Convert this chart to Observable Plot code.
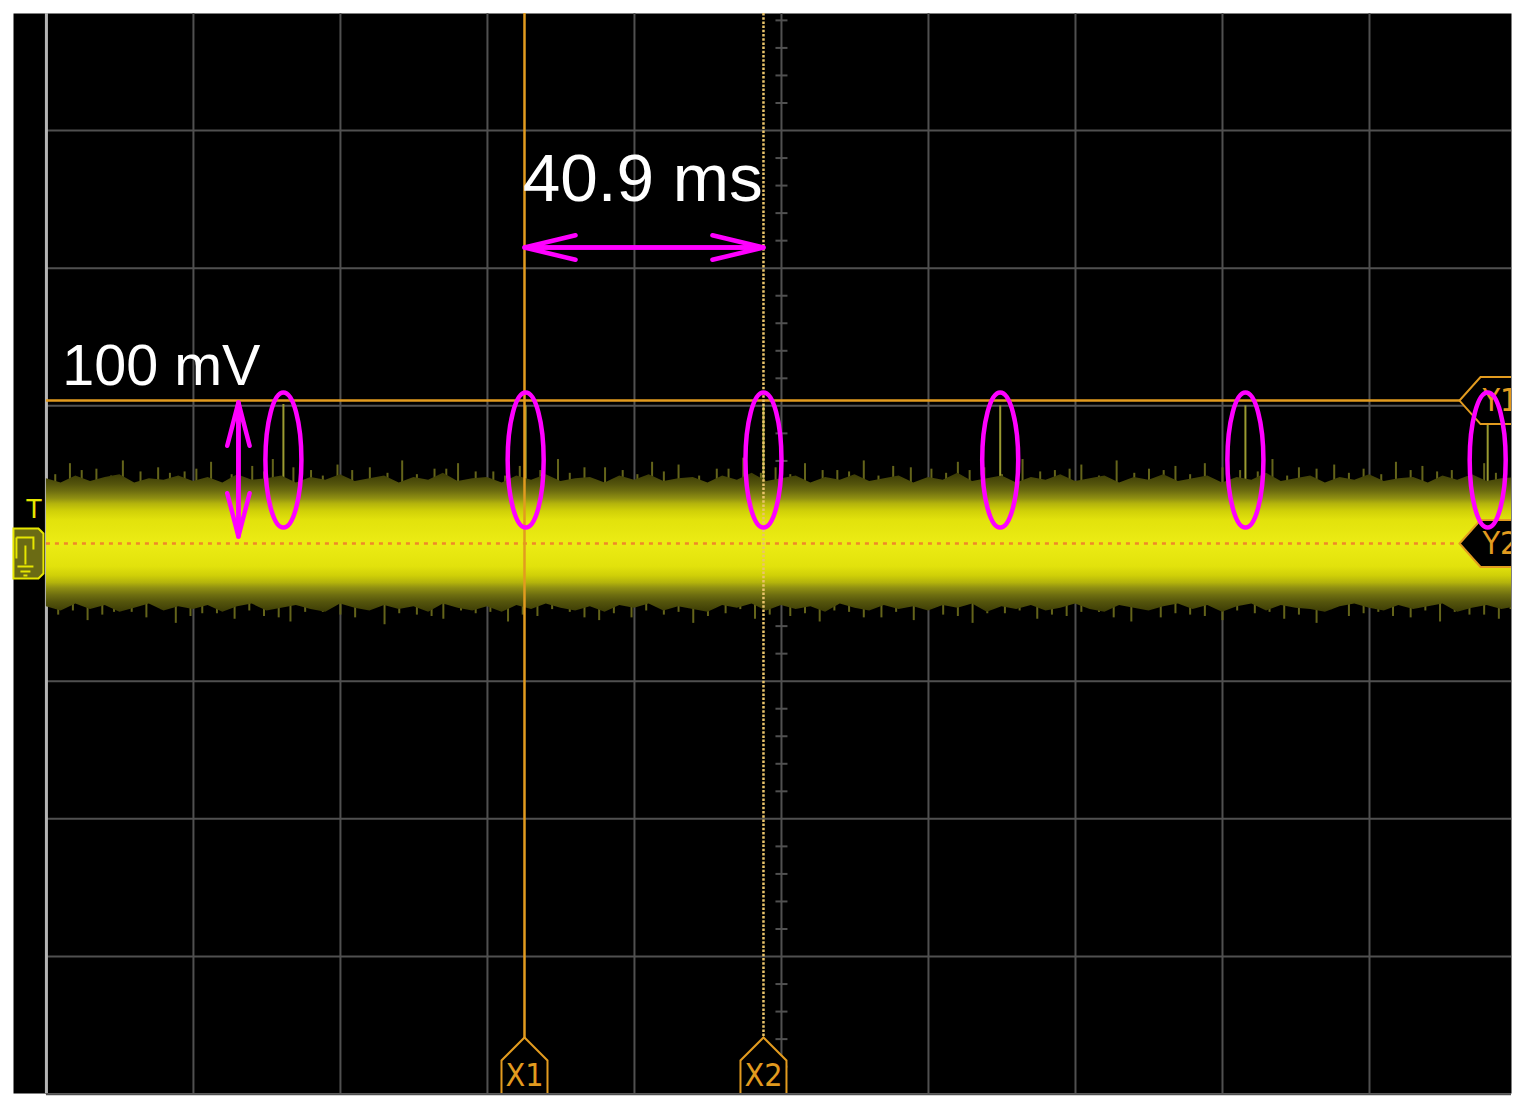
<!DOCTYPE html>
<html><head><meta charset="utf-8">
<script src="https://cdn.jsdelivr.net/npm/d3@7"></script>
<script src="https://cdn.jsdelivr.net/npm/@observablehq/plot@0.6"></script>
<style>html,body{margin:0;padding:0;background:#fff;} #chart svg{display:block}</style>
</head><body><div id="chart"></div>
<script>
// ---- scale extents (ms, mV) ----
const tDomain = [-130.6, 124.15];
const mvDomain = [-399.5, 385.0];

// ---- graticule ----
const gridT = [-100, -75, -50, -25, 0, 25, 50, 75, 100];
const borderT = [-125];
const gridMV = [-400, -300, -200, -100, 0, 100, 200, 300];
const minorMV = d3.range(-380, 381, 20).filter(v => v % 100 !== 0);
const minorT = d3.range(-120, 121, 5).filter(v => v % 25 !== 0);

// ---- cursors ----
const xCursorName = ["X1", "X2"];
const xCursorT = [-43.7, -3.06];
const yCursorName = ["Y1", "Y2"];
const yCursorMV = [103.8, 0];

// ---- noise band envelope ----
const noiseT = [-125,-122.5,-120,-117.5,-115,-112.5,-110,-107.5,-105,-102.5,-100,-97.5,-95,-92.5,-90,-87.5,-85,-82.5,-80,-77.5,-75,-72.5,-70,-67.5,-65,-62.5,-60,-57.5,-55,-52.5,-50,-47.5,-45,-42.5,-40,-37.5,-35,-32.5,-30,-27.5,-25,-22.5,-20,-17.5,-15,-12.5,-10,-7.5,-5,-2.5,0,2.5,5,7.5,10,12.5,15,17.5,20,22.5,25,27.5,30,32.5,35,37.5,40,42.5,45,47.5,50,52.5,55,57.5,60,62.5,65,67.5,70,72.5,75,77.5,80,82.5,85,87.5,90,92.5,95,97.5,100,102.5,105,107.5,110,112.5,115,117.5,120,122.5,125];
const noiseHi = [47,44,49,45,48,50,44,47,46,49, 45,48,44,50,46,47,49,44,48,46, 50,45,47,49,44,48,46,51,45,47, 48,44,49,46,50,45,47,48,44,49, 46,50,45,47,48,44,49,46,51,45, 47,49,44,48,46,50,45,47,49,44, 48,46,51,45,47,49,44,48,46,50, 45,47,49,44,48,46,50,45,47,49, 44,48,46,51,45,47,49,44,48,46, 50,45,47,48,44,49,46,50,45,47, 48];
const noiseLo = [-46,-49,-44,-48,-45,-50,-47,-44,-49,-46, -48,-45,-50,-46,-44,-49,-47,-45,-48,-50, -44,-47,-49,-45,-48,-46,-50,-44,-47,-49, -46,-50,-45,-48,-44,-47,-49,-46,-50,-45, -47,-44,-49,-46,-48,-50,-45,-47,-44,-49, -45,-48,-46,-50,-44,-47,-49,-45,-48,-46, -49,-45,-47,-44,-50,-46,-48,-45,-49,-47, -44,-48,-50,-45,-47,-49,-46,-44,-48,-45, -50,-46,-44,-49,-45,-47,-48,-50,-46,-44, -47,-49,-45,-48,-46,-44,-50,-47,-45,-48, -46];

// ---- noise spikes beyond the band ----
const spikeUpT = [-121,-116.5,-112,-106,-101.5,-97,-90,-86.5,-80,-75.5,-70,-64.5,-59,-55,-49,-44.5,-38,-33.5,-27,-22,-17.5,-11,-6.5,-1,4,9.5,14,19,25.5,30,34.5,41,46.5,51,57,62.5,67,72,78,83.5,88,94,99,104.5,109,114,119.5,123,
  -123.5,-119,-114,-109,-104,-99.5,-93.5,-88,-83,-78,-73,-67,-62,-57,-52,-47,-41,-36,-30,-24.5,-20,-14,-9,-3.5,1.5,7,11.5,16.5,22,28,32,37.5,44,49,54,60,65,69.5,75,81,86,91,96.5,102,107,111.5,117,121.5];
const spikeUpV = [58,54,60,55,52,59,56,61,53,57,55,60,54,58,52,56,61,55,53,59,57,54,62,55,58,53,60,56,54,59,55,61,53,57,60,54,56,58,53,61,55,57,54,59,56,53,58,55,
  50,53,49,52,51,54,50,52,55,49,53,51,50,54,52,49,53,51,55,50,52,49,54,51,50,53,52,49,55,51,53,50,52,54,49,51,53,50,55,52,49,54,51,50,53,52,49,51];
const spikeDnT = [-123,-118,-113.5,-108,-103,-98.5,-93,-88,-83.5,-78,-72.5,-67.5,-62,-57.5,-52,-46.5,-41.5,-36,-31,-25.5,-20,-15,-9.5,-4.5,1.5,6.5,11.5,17,22.5,27.5,32.5,38,43.5,48.5,54,59.5,64.5,69.5,75,80.5,85.5,91,96.5,101.5,107,112,117,122,
  -120.5,-115.5,-110.5,-105.5,-100.5,-96,-90.5,-85.5,-81,-75,-70,-65,-59.5,-54.5,-49.5,-44,-39,-33.5,-28.5,-23,-17.5,-12.5,-7,-2,4,9,14,19.5,25,30,35,40.5,46,51,56.5,62,67,72,77.5,83,88,93.5,99,104,109.5,114.5,119.5,124];
const spikeDnV = [-52,-56,-50,-54,-58,-51,-55,-53,-57,-50,-54,-59,-52,-55,-51,-57,-53,-50,-56,-54,-52,-58,-51,-55,-53,-57,-50,-54,-56,-52,-58,-51,-55,-53,-50,-57,-54,-52,-56,-51,-55,-58,-53,-50,-54,-57,-52,-55,
  -49,-52,-50,-48,-53,-51,-49,-54,-50,-52,-48,-51,-53,-49,-50,-52,-48,-54,-51,-49,-50,-53,-48,-52,-51,-49,-54,-50,-48,-53,-51,-49,-52,-50,-54,-48,-51,-53,-49,-50,-52,-48,-51,-53,-49,-50,-52,-48];

// ---- glitches (circled) ----
const glitchT = [-84.7, -43.5, -3.06, 37.2, 78.9, 120.1];
const glitchTop = [101, 100, 100, 100, 100, 87];
const ringMV = 60.6;

// ---- annotations ----
const periodLabel = "40.9 ms";
const ampLabel = "100 mV";
const ampArrowT = -92.35;
const ampArrowMV = [5.1, 102.4];
const periodArrowMV = 215;

// ---- tables built from the arrays ----
const noise = noiseT.map((t, i) => ({t, hi: noiseHi[i], lo: noiseLo[i]}));
const spikesUp = spikeUpT.map((t, i) => ({t, v: spikeUpV[i]}));
const spikesDn = spikeDnT.map((t, i) => ({t, v: spikeDnV[i]}));
const glitches = glitchT.map((t, i) => ({t, top: glitchTop[i]}));
const xCursors = xCursorName.map((name, i) => ({name, t: xCursorT[i]}));
const yCursors = yCursorName.map((name, i) => ({name, mv: yCursorMV[i]}));
const ampArrows = [
  {x1: ampArrowT, y1: ampArrowMV[0], x2: ampArrowT, y2: ampArrowMV[1]},
  {x1: ampArrowT, y1: ampArrowMV[1], x2: ampArrowT, y2: ampArrowMV[0]}
];
const periodArrows = [
  {x1: xCursorT[0], y1: periodArrowMV, x2: xCursorT[1], y2: periodArrowMV},
  {x1: xCursorT[1], y1: periodArrowMV, x2: xCursorT[0], y2: periodArrowMV}
];

// ---- custom symbols ----
const K = 0.5523;
const ring = {draw(c) { const rx = 18, ry = 67.5;
  c.moveTo(rx, 0);
  c.bezierCurveTo(rx, ry*K, rx*K, ry, 0, ry);
  c.bezierCurveTo(-rx*K, ry, -rx, ry*K, -rx, 0);
  c.bezierCurveTo(-rx, -ry*K, -rx*K, -ry, 0, -ry);
  c.bezierCurveTo(rx*K, -ry, rx, -ry*K, rx, 0);
  c.closePath(); }};
const hTick = {draw(c) { c.moveTo(-6, 0); c.lineTo(6, 0); }};
const vTick = {draw(c) { c.moveTo(0, -6); c.lineTo(0, 6); }};
const xMark = {draw(c) { c.moveTo(-23, 12); c.lineTo(-23, -33); c.lineTo(0, -56); c.lineTo(23, -33); c.lineTo(23, 12); }};
const yMark = {draw(c) { c.moveTo(12, -23.5); c.lineTo(-31, -23.5); c.lineTo(-52, 0); c.lineTo(-31, 23.5); c.lineTo(12, 23.5); }};
const trigBox = {draw(c) { c.moveTo(-33, -15); c.lineTo(-8, -15); c.lineTo(-3, -10); c.lineTo(-3, 30); c.lineTo(-8, 35); c.lineTo(-33, 35); c.closePath(); }};
const trigGlyph = {draw(c) {
  c.moveTo(-30, -6); c.lineTo(-30, 15);
  c.moveTo(-30, -6); c.lineTo(-13, -6); c.lineTo(-13, 6);
  c.moveTo(-21, 2); c.lineTo(-21, 21);
  c.moveTo(-29, 23); c.lineTo(-13, 23);
  c.moveTo(-26, 28); c.lineTo(-16, 28);
  c.moveTo(-23, 32); c.lineTo(-19, 32); }};

const FONT = "Liberation Sans, Arial, sans-serif";
const NARROW = "Liberation Sans Narrow, DejaVu Sans Condensed, Liberation Sans, Arial, sans-serif";
const CUR = "#e29b1f";
const MAG = "#ff00ff";

const chart = Plot.plot({
  width: 1525, height: 1107,
  marginTop: 13, marginRight: 14, marginBottom: 14, marginLeft: 13,
  x: {domain: tDomain, axis: null},
  y: {domain: mvDomain, axis: null},
  style: {background: "white", fontFamily: FONT},
  marks: [
    Plot.frame({fill: "black", stroke: "none"}),
    Plot.ruleX(gridT, {stroke: "#505050", strokeWidth: 2}),
    Plot.ruleY(gridMV, {x1: borderT[0], x2: tDomain[1], stroke: "#505050", strokeWidth: 2}),
    Plot.ruleX(borderT, {stroke: "#b4b4b4", strokeWidth: 3}),
    Plot.dot(minorMV, {x: () => 0, y: d => d, symbol: hTick, stroke: "#505050", strokeWidth: 2, fill: "none"}),
    Plot.dot(minorT, {x: d => d, y: () => 0, symbol: vTick, stroke: "#505050", strokeWidth: 2, fill: "none"}),
    Plot.ruleX(spikesUp, {x: "t", y1: () => 0, y2: "v", stroke: "#64641a", strokeWidth: 2, clip: true}),
    Plot.ruleX(spikesDn, {x: "t", y1: () => 0, y2: "v", stroke: "#64641a", strokeWidth: 2, clip: true}),
    Plot.ruleX(glitches, {x: "t", y1: () => 0, y2: "top", stroke: "#9a9a30", strokeWidth: 2}),
    Plot.areaY(noise, {x: "t", y1: "lo", y2: "hi", fill: "url(#band)", clip: true}),
    Plot.ruleY([yCursors[0]], {y: "mv", x1: borderT[0], x2: tDomain[1], stroke: CUR, strokeWidth: 2.5}),
    Plot.ruleY([yCursors[1]], {y: "mv", x1: borderT[0], x2: tDomain[1], stroke: "#f0882a", strokeWidth: 2.5, strokeDasharray: "4,5"}),
    Plot.ruleX([xCursors[0]], {x: "t", stroke: CUR, strokeWidth: 2.5}),
    Plot.ruleX([xCursors[1]], {x: "t", stroke: "#eac46a", strokeWidth: 2.5, strokeDasharray: "2.5,1.7"}),
    Plot.dot(xCursors, {x: "t", y: () => mvDomain[0], symbol: xMark, fill: "black", stroke: CUR, strokeWidth: 2, clip: true}),
    Plot.text(xCursors, {x: "t", y: () => mvDomain[0], text: "name", dy: -8, lineAnchor: "bottom", fill: CUR, fontSize: 32, fontFamily: NARROW, clip: true}),
    Plot.dot(yCursors, {x: () => tDomain[1], y: "mv", symbol: yMark, fill: "black", stroke: CUR, strokeWidth: 2, clip: true}),
    Plot.text(yCursors, {x: () => tDomain[1], y: "mv", text: "name", dx: -29, textAnchor: "start", lineAnchor: "middle", fill: CUR, fontSize: 32, fontFamily: NARROW, clip: true}),
    Plot.dot([0], {x: () => borderT[0], y: d => d, symbol: trigBox, fill: "#6b6b14", stroke: "#e6e600", strokeWidth: 2}),
    Plot.dot([0], {x: () => borderT[0], y: d => d, symbol: trigGlyph, fill: "none", stroke: "#e6e600", strokeWidth: 2}),
    Plot.text(["T"], {x: () => borderT[0], y: () => 0, text: d => d, dx: -12.5, dy: -26, lineAnchor: "bottom", fill: "#e6e600", fontSize: 27, fontFamily: FONT}),
    Plot.dot(glitches, {x: "t", y: () => ringMV, symbol: ring, fill: "none", stroke: MAG, strokeWidth: 4.5}),
    Plot.arrow(ampArrows, {x1: "x1", y1: "y1", x2: "x2", y2: "y2", stroke: MAG, strokeWidth: 4.5, headAngle: 29, headLength: 17.5}),
    Plot.arrow(periodArrows, {x1: "x1", y1: "y1", x2: "x2", y2: "y2", stroke: MAG, strokeWidth: 4.5, headAngle: 27, headLength: 17.5}),
    Plot.text([periodLabel], {x: () => -44.0, y: () => 249, text: d => d, textAnchor: "start", lineAnchor: "bottom", fill: "white", fontSize: 67.5, fontFamily: FONT}),
    Plot.text([ampLabel], {x: () => -122.3, y: () => 115.5, text: d => d, textAnchor: "start", lineAnchor: "bottom", fill: "white", fontSize: 57.5, fontFamily: FONT})
  ]
});

// vertical intensity gradient for the persistence band
const ys = chart.scale("y");
const yPix = ys.apply ? (v => ys.apply(v)) : d3.scaleLinear(ys.domain, ys.range);
const defs = d3.select(chart).insert("defs", ":first-child");
const grad = defs.append("linearGradient").attr("id", "band")
  .attr("gradientUnits", "userSpaceOnUse")
  .attr("x1", 0).attr("x2", 0).attr("y1", yPix(65)).attr("y2", yPix(-65));
// offsets map 65 mV (0) .. -65 mV (1)
const stops = [
  [0, "#262600"], [0.12, "#3e3e06"], [0.17, "#54540c"], [0.21, "#6e6e10"], [0.25, "#909012"],
  [0.28, "#b4b40c"], [0.32, "#d0d008"], [0.37, "#e2e20c"], [0.5, "#ecec14"], [0.63, "#e2e20c"],
  [0.68, "#d0d008"], [0.72, "#b4b40c"], [0.75, "#909012"], [0.79, "#6e6e10"], [0.83, "#54540c"],
  [0.88, "#3e3e06"], [1, "#262600"]
];
stops.forEach(([o, c]) => grad.append("stop").attr("offset", o).attr("stop-color", c));

document.getElementById("chart").append(chart);
</script></body></html>
